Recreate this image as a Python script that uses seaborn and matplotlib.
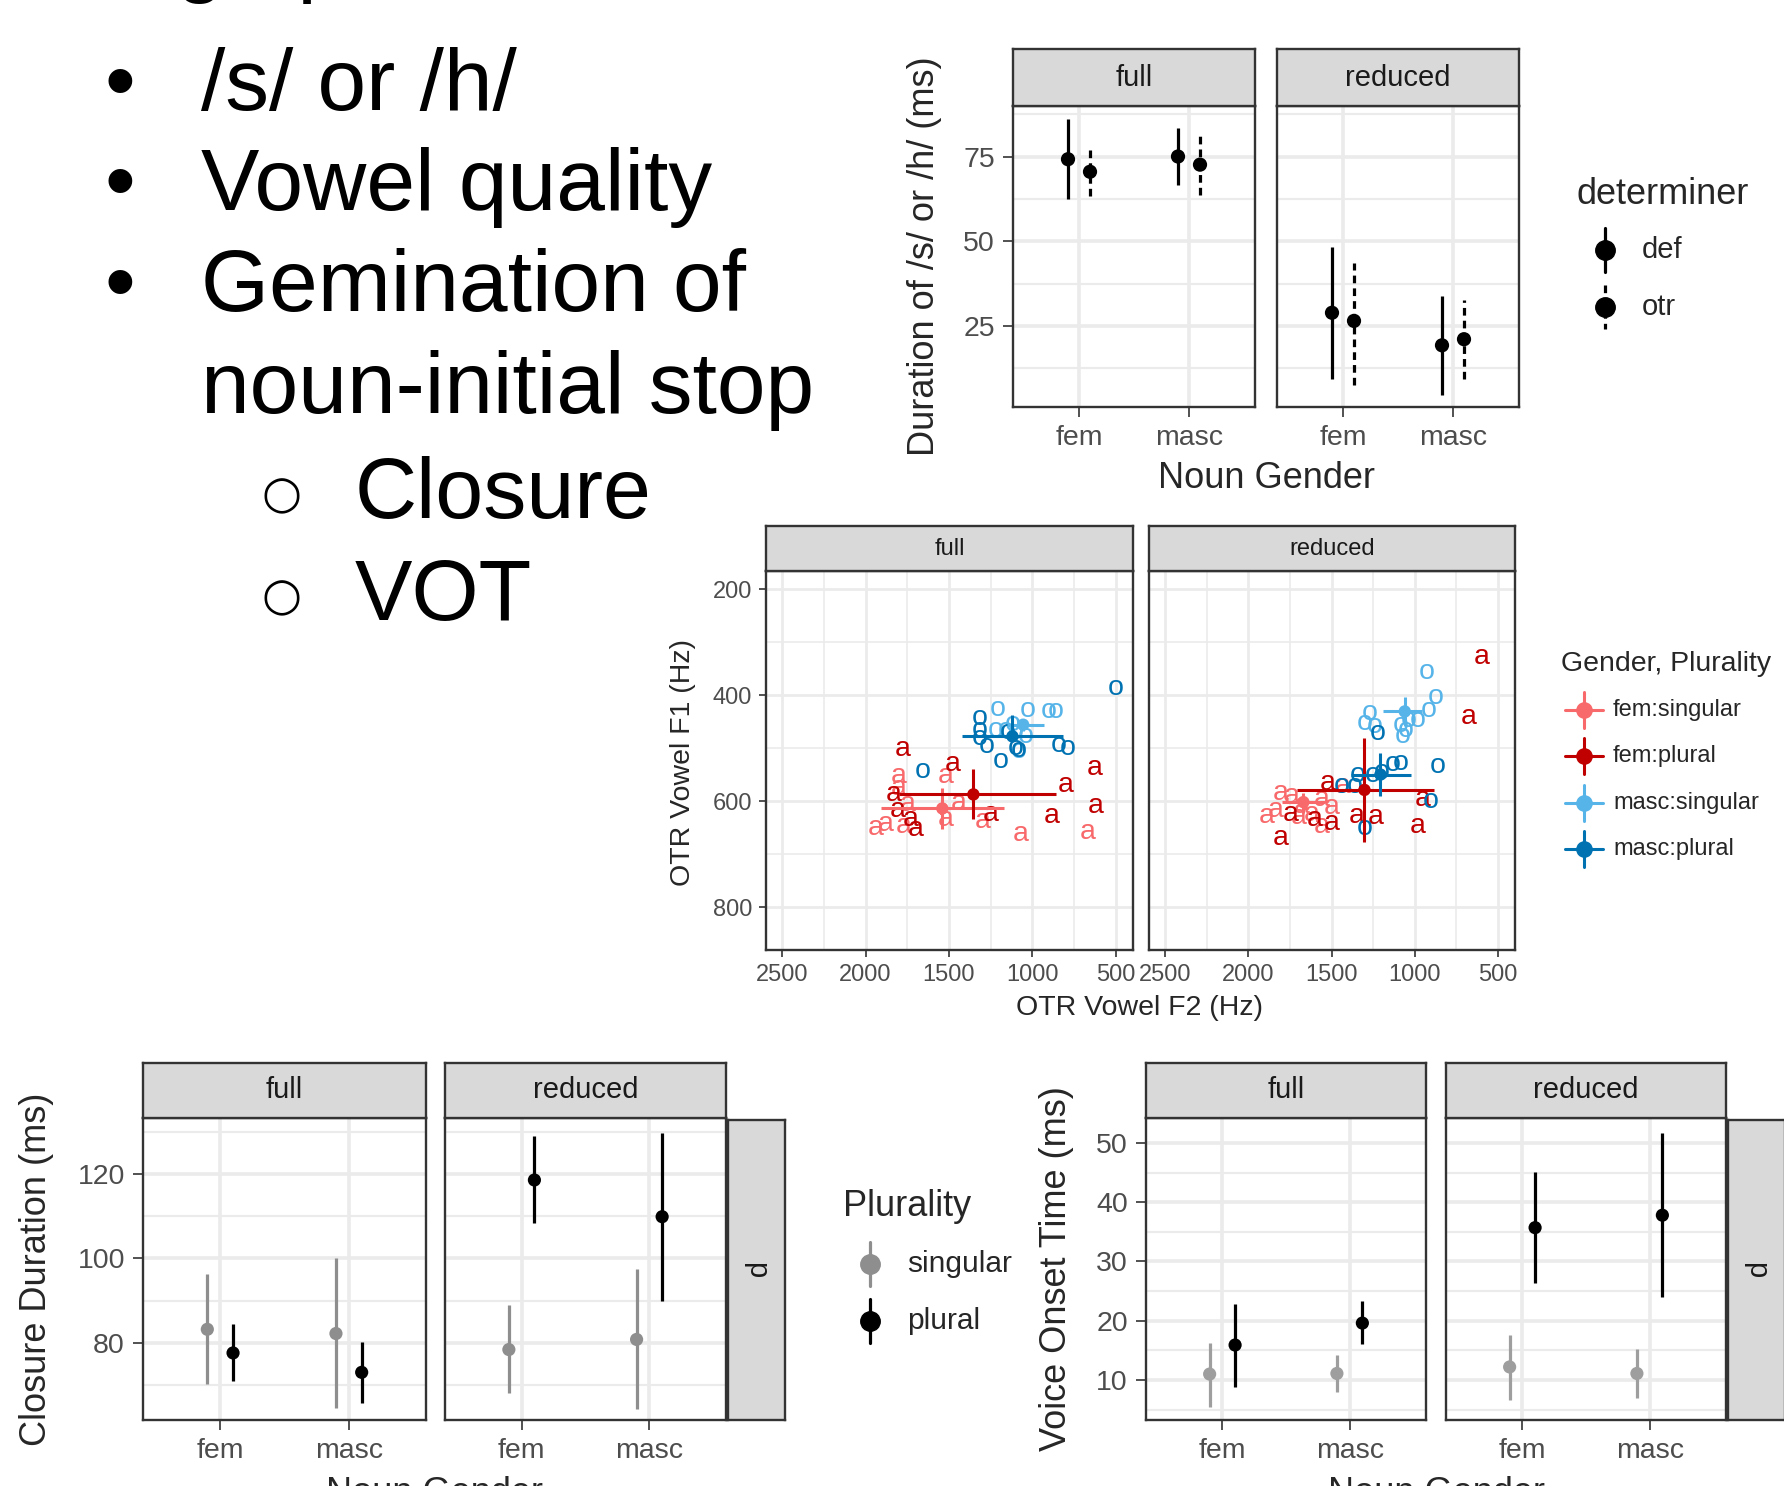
import numpy as np
import pandas as pd
import matplotlib
matplotlib.use("Agg")
import matplotlib.pyplot as plt
import seaborn as sns

sns.set_theme(style="white")
plt.rcParams["font.family"] = ["Liberation Sans", "DejaVu Sans"]

# ---------------- data ----------------
slide_heading = "Usage patterns"
bullets = ["/s/ or /h/", "Vowel quality", "Gemination of"]
bullet_cont = "noun-initial stop"
subbullets = ["Closure", "VOT"]

conditions = ["full", "reduced"]
genders = ["fem", "masc"]
stop_label = "p"

# Duration of /s/ or /h/
dur_condition = ["full"] * 4 + ["reduced"] * 4
dur_gender = ["fem", "fem", "masc", "masc"] * 2
dur_det = ["def", "otr"] * 4
dur_mean = [74.2, 70.5, 75.0, 72.6, 28.9, 26.5, 19.3, 21.1]
dur_lo = [62.4, 63.4, 66.6, 63.7, 9.5, 7.7, 4.7, 9.4]
dur_hi = [86.0, 77.7, 83.4, 81.8, 48.4, 43.7, 33.9, 32.6]
dur_yticks = [25, 50, 75]

# Closure duration
clo_condition = ["full"] * 4 + ["reduced"] * 4
clo_gender = ["fem", "fem", "masc", "masc"] * 2
clo_plur = ["singular", "plural"] * 4
clo_mean = [83.2, 77.6, 82.2, 73.0, 78.4, 118.6, 80.8, 109.9]
clo_lo = [70.2, 71.0, 64.5, 65.8, 68.0, 108.3, 64.2, 90.0]
clo_hi = [96.3, 84.4, 100.1, 80.2, 88.9, 129.0, 97.4, 129.8]
clo_yticks = [80, 100, 120]

# VOT
vot_mean = [11.0, 15.9, 11.1, 19.6, 12.2, 35.7, 11.1, 37.8]
vot_lo = [5.45, 8.8, 7.9, 16.0, 6.7, 26.3, 6.9, 24.0]
vot_hi = [16.3, 22.9, 14.2, 23.3, 17.6, 45.1, 15.3, 51.6]
vot_yticks = [10, 20, 30, 40, 50]

# Vowel tokens (F2, F1)
groups = ["fem:singular", "fem:plural", "masc:singular", "masc:plural"]
group_letter = {"fem:singular": "a", "fem:plural": "a", "masc:singular": "o", "masc:plural": "o"}
group_color = {"fem:singular": "#F8696B", "fem:plural": "#C00000",
               "masc:singular": "#56B4E9", "masc:plural": "#0072B2"}

full_fs_f2 = [1804, 1520, 1940, 1880, 1770, 1520, 1440, 1300, 1070, 670, 1800, 1750]
full_fs_f1 = [553, 552, 650, 644, 647, 634, 603, 637, 662, 659, 575, 606]
full_fp_f2 = [1780, 1476, 630, 804, 620, 884, 1250, 1830, 1810, 1730, 1700]
full_fp_f1 = [502, 530, 537, 569, 609, 628, 625, 587, 616, 634, 653]
full_ms_f2 = [1206, 1030, 900, 860, 1220, 1160, 1100, 1040, 1080, 1120]
full_ms_f1 = [427, 428, 431, 431, 466, 466, 470, 478, 506, 455]
full_mp_f2 = [500, 1316, 1316, 1316, 1276, 1190, 1080, 840, 790, 1656, 1150, 1100]
full_mp_f1 = [387, 444, 466, 481, 496, 525, 503, 494, 500, 544, 470, 500]

red_fs_f2 = [1808, 1738, 1887, 1837, 1679, 1560, 1500, 1560, 1431, 1620, 1700]
red_fs_f1 = [584, 591, 628, 616, 609, 597, 612, 647, 572, 625, 630]
red_fp_f2 = [597, 677, 1524, 954, 984, 1232, 1351, 1748, 1808, 1599, 1500]
red_fp_f1 = [328, 442, 566, 597, 647, 631, 628, 625, 669, 634, 641]
red_ms_f2 = [929, 875, 915, 1272, 1302, 1242, 1083, 1054, 1073, 1034, 985]
red_ms_f1 = [356, 403, 428, 434, 453, 459, 456, 466, 478, 447, 447]
red_mp_f2 = [1222, 861, 1133, 1083, 1341, 1252, 1361, 1441, 905, 1302, 1200]
red_mp_f1 = [472, 534, 531, 529, 550, 550, 572, 572, 600, 650, 545]

# group means and ranges (F2 and F1)
full_mean_f2 = [1540, 1354, 1056, 1120]
full_f2_a = [1910, 1800, 1150, 1420]
full_f2_b = [1170, 860, 930, 820]
full_mean_f1 = [614, 587.5, 456, 478]
full_f1_a = [575, 540, 445, 437]
full_f1_b = [653, 634, 468, 487]
red_mean_f2 = [1669, 1302, 1060, 1206]
red_f2_a = [1797, 1708, 1192, 1381]
red_f2_b = [1540, 885, 954, 1020]
red_mean_f1 = [602, 579, 431, 550]
red_f1_a = [584, 481, 403, 509]
red_f1_b = [622, 678, 459, 591]

f2_ticks = [2500, 2000, 1500, 1000, 500]
f1_ticks = [200, 400, 600, 800]

# ---------------- figure ----------------
W, H = 1784, 1486
fig = plt.figure(figsize=(W / 100, H / 100), dpi=100)
fig.patch.set_facecolor("white")

BORDER = "#333333"
STRIP = "#D9D9D9"
GRID = "#EBEBEB"
TICKC = "#4D4D4D"


def ax_px(x0, y0, x1, y1):
    return fig.add_axes([x0 / W, 1 - y1 / H, (x1 - x0) / W, (y1 - y0) / H])


def ftext(x, y, s, **kw):
    fig.text(x / W, 1 - y / H, s, **kw)


def strip(x0, y0, x1, y1, label, size, rot=0):
    s = ax_px(x0, y0, x1, y1)
    s.set_facecolor(STRIP)
    s.set_xticks([]); s.set_yticks([])
    for sp in s.spines.values():
        sp.set_color(BORDER); sp.set_linewidth(1.7)
    s.text(0.5, 0.5, label, ha="center", va="center", fontsize=size,
           color="#1A1A1A", rotation=rot, transform=s.transAxes)
    return s


def panel(x0, y0, x1, y1, xlim, ylim, xmaj, ymaj, xminr, yminr, gw,
          show_y, xtl, ts, tlen, tpad):
    ax = ax_px(x0, y0, x1, y1)
    ax.set_facecolor("white")
    ax.set_xlim(xlim); ax.set_ylim(ylim)
    for v in yminr:
        ax.axhline(v, color=GRID, lw=gw * 0.6, zorder=0)
    for v in xminr:
        ax.axvline(v, color=GRID, lw=gw * 0.6, zorder=0)
    for v in ymaj:
        ax.axhline(v, color=GRID, lw=gw, zorder=0)
    for v in xmaj:
        ax.axvline(v, color=GRID, lw=gw, zorder=0)
    ax.set_xticks(xmaj)
    ax.set_xticklabels(xtl)
    ax.set_yticks(ymaj)
    ax.set_yticklabels([str(v) for v in ymaj] if show_y else [])
    ax.tick_params(axis="both", which="major", length=tlen, width=1.2, color=BORDER,
                   labelcolor=TICKC, labelsize=ts, pad=tpad, bottom=True, left=show_y)
    for sp in ax.spines.values():
        sp.set_color(BORDER); sp.set_linewidth(1.7); sp.set_zorder(5)
    ax.grid(False)
    return ax


# ---------------- slide text ----------------
ftext(20, -14, slide_heading, fontsize=63, ha="left", va="baseline", color="black")
for s, yb in zip(bullets, [110, 210, 311]):
    ftext(120, yb, "\u2022", fontsize=63, ha="center", va="baseline", color="black")
    ftext(201, yb, s, fontsize=63, ha="left", va="baseline", color="black")
ftext(201, 413, bullet_cont, fontsize=63, ha="left", va="baseline", color="black")
for s, yb in zip(subbullets, [518, 620]):
    ftext(282, yb - 22, "\u25CB", fontsize=33, ha="center", va="center", color="black",
          family=["DejaVu Sans"])
    ftext(355, yb, s, fontsize=62, ha="left", va="baseline", color="black")

# ---------------- top: duration ----------------
dur = pd.DataFrame({"condition": dur_condition, "gender": dur_gender, "det": dur_det,
                    "mean": dur_mean, "lo": dur_lo, "hi": dur_hi})
dur["x"] = dur["gender"].map({g: i for i, g in enumerate(genders)}) + \
    dur["det"].map({"def": -0.1, "otr": 0.1})
DASH = (0, (2.4, 1.6))
top_panels = [(1013, 1255), (1277, 1519)]
for i, (cond, (x0, x1)) in enumerate(zip(conditions, top_panels)):
    ax = panel(x0, 106, x1, 407, (-0.6, 1.6), (1.1, 89.9), [0, 1], dur_yticks, [],
               [12.5, 37.5, 62.5, 87.5], 2.6, i == 0, genders, 20.5, 7, 6)
    strip(x0, 49, x1, 106, cond, 21)
    sub = dur[dur["condition"] == cond]
    for det, ls in [("def", "-"), ("otr", DASH)]:
        d = sub[sub["det"] == det]
        ax.vlines(d["x"], d["lo"], d["hi"], color="black", lw=2.3, linestyles=[ls], zorder=3)
    sns.scatterplot(data=sub, x="x", y="mean", color="black", s=105, edgecolor="none",
                    ax=ax, legend=False, zorder=4)
    ax.set_xlabel(""); ax.set_ylabel("")
ftext(924, 256, "Duration of /s/ or /h/ (ms)", fontsize=26, rotation=90, ha="center", va="center")
ftext(1266, 479, "Noun Gender", fontsize=26, ha="center", va="center")
# legend
ftext(1577, 194, "determiner", fontsize=26, ha="left", va="center")
lg = ax_px(1560, 215, 1784, 340)
lg.set_xlim(1560, 1784); lg.set_ylim(340, 215); lg.axis("off")
for lab, yc, ls in [("def", 250, "-"), ("otr", 307, DASH)]:
    lg.plot([1605, 1605], [yc - 22, yc + 22], color="black", lw=2.3, linestyle=ls)
    lg.plot([1605], [yc], "o", color="black", ms=14)
    lg.text(1642, yc, lab, fontsize=21, ha="left", va="center")

# ---------------- middle: vowel space ----------------
mid_panels = [(766, 1133), (1149, 1515)]
tok = {"full": [(full_fs_f2, full_fs_f1), (full_fp_f2, full_fp_f1),
                (full_ms_f2, full_ms_f1), (full_mp_f2, full_mp_f1)],
       "reduced": [(red_fs_f2, red_fs_f1), (red_fp_f2, red_fp_f1),
                   (red_ms_f2, red_ms_f1), (red_mp_f2, red_mp_f1)]}
means = {"full": (full_mean_f2, full_f2_a, full_f2_b, full_mean_f1, full_f1_a, full_f1_b),
         "reduced": (red_mean_f2, red_f2_a, red_f2_b, red_mean_f1, red_f1_a, red_f1_b)}
for i, (cond, (x0, x1)) in enumerate(zip(conditions, mid_panels)):
    ax = panel(x0, 571, x1, 950, (2596, 398), (881, 166), f2_ticks, f1_ticks,
               [2250, 1750, 1250, 750], [300, 500, 700], 2.0, i == 0,
               [str(v) for v in f2_ticks], 17, 5, 5)
    ax.set_yticklabels([str(v) for v in f1_ticks] if i == 0 else [])
    strip(x0, 526, x1, 571, cond, 17)
    for g, (f2s, f1s) in zip(groups, tok[cond]):
        for a, b in zip(f2s, f1s):
            ax.text(a, b, group_letter[g], color=group_color[g], fontsize=20.5,
                    ha="center", va="center", zorder=2)
    m2, a2, b2, m1, a1, b1 = means[cond]
    md = pd.DataFrame({"group": groups, "F2": m2, "F1": m1})
    for k, g in enumerate(groups):
        ax.hlines(m1[k], a2[k], b2[k], color=group_color[g], lw=2.2, zorder=3)
        ax.vlines(m2[k], a1[k], b1[k], color=group_color[g], lw=2.2, zorder=3)
    sns.scatterplot(data=md, x="F2", y="F1", hue="group", palette=group_color, s=80,
                    edgecolor="none", ax=ax, legend=False, zorder=4)
    ax.set_xlim(2596, 398); ax.set_ylim(881, 166)
    ax.set_xlabel(""); ax.set_ylabel("")
ftext(683, 762, "OTR Vowel F1 (Hz)", fontsize=20.5, rotation=90, ha="center", va="center")
ftext(1140, 1008, "OTR Vowel F2 (Hz)", fontsize=20.5, ha="center", va="center")
ftext(1561, 664, "Gender, Plurality", fontsize=20.5, ha="left", va="center")
lg2 = ax_px(1550, 680, 1784, 875)
lg2.set_xlim(1550, 1784); lg2.set_ylim(875, 680); lg2.axis("off")
for g, yc in zip(groups, [710, 756, 803, 849]):
    lg2.plot([1565, 1603], [yc, yc], color=group_color[g], lw=2.2)
    lg2.plot([1584, 1584], [yc - 18, yc + 18], color=group_color[g], lw=2.2)
    lg2.plot([1584], [yc], "o", color=group_color[g], ms=11)
    lg2.text(1613, yc, g, fontsize=17, ha="left", va="center")

# ---------------- bottom: closure & VOT ----------------
def bottom_plot(panels, means_, los, his, ylim, yticks, yminor, sing_col, ylabel, ylab_x):
    df = pd.DataFrame({"condition": clo_condition, "gender": clo_gender, "plur": clo_plur,
                       "mean": means_, "lo": los, "hi": his})
    df["x"] = df["gender"].map({g: i for i, g in enumerate(genders)}) + \
        df["plur"].map({"singular": -0.1, "plural": 0.1})
    pal = {"singular": sing_col, "plural": "black"}
    for i, (cond, (x0, x1)) in enumerate(zip(conditions, panels)):
        ax = panel(x0, 1118, x1, 1420, (-0.6, 1.6), ylim, [0, 1], yticks, [], yminor,
                   2.6, i == 0, genders, 20.5, 7, 6)
        strip(x0, 1063, x1, 1118, cond, 21)
        sub = df[df["condition"] == cond]
        for p in ["singular", "plural"]:
            d = sub[sub["plur"] == p]
            ax.vlines(d["x"], d["lo"], d["hi"], color=pal[p], lw=2.3, zorder=3)
        sns.scatterplot(data=sub, x="x", y="mean", hue="plur", palette=pal, s=90,
                        edgecolor="none", ax=ax, legend=False, zorder=4)
        ax.set_xlabel(""); ax.set_ylabel("")
    strip(panels[1][1] + 2, 1120, panels[1][1] + 59, 1420, stop_label, 21, rot=-90)
    ftext(ylab_x, 1269, ylabel, fontsize=26, rotation=90, ha="center", va="center")
    ftext((panels[0][0] + panels[1][1]) / 2, 1476, "Noun Gender", fontsize=26,
          ha="center", va="top")


bottom_plot([(143, 426), (445, 726)], clo_mean, clo_lo, clo_hi, (61.7, 133.3),
            clo_yticks, [70, 90, 110, 130], "#8E8E8E", "Closure Duration (ms)", 37)
bottom_plot([(1146, 1426), (1446, 1726)], vot_mean, vot_lo, vot_hi, (3.25, 54.2),
            vot_yticks, [5, 15, 25, 35, 45], "#9E9E9E", "Voice Onset Time (ms)", 1056)

ftext(843, 1207, "Plurality", fontsize=26, ha="left", va="center")
lg3 = ax_px(840, 1230, 1030, 1350)
lg3.set_xlim(840, 1030); lg3.set_ylim(1350, 1230); lg3.axis("off")
for lab, yc, col in [("singular", 1264, "#8E8E8E"), ("plural", 1321, "black")]:
    lg3.plot([870, 870], [yc - 22, yc + 22], color=col, lw=2.3)
    lg3.plot([870], [yc], "o", color=col, ms=14)
    lg3.text(907, yc, lab, fontsize=21.5, ha="left", va="center")

fig.savefig("out.png", dpi=100, facecolor="white")
